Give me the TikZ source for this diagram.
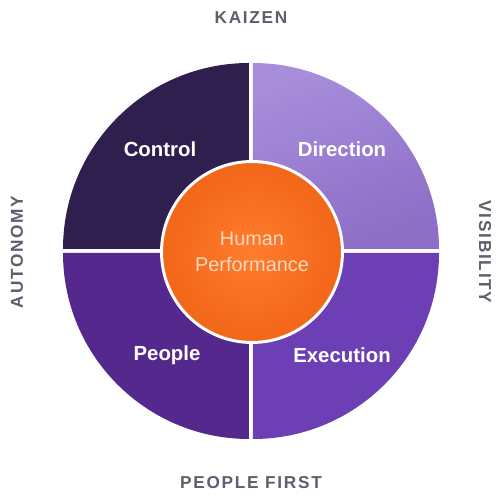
\documentclass[tikz,border=0pt]{standalone}
\usepackage{fontspec}
\setmainfont{Liberation Sans}
\newfontfamily\capsfont[LetterSpace=10]{Liberation Sans}
\definecolor{capgray}{HTML}{5E5E6C}
\definecolor{quadtl}{HTML}{2E1F4F}
\definecolor{quadtrA}{HTML}{A88DDB}
\definecolor{quadtrB}{HTML}{8C6EC6}
\definecolor{quadbl}{HTML}{54288C}
\definecolor{quadbr}{HTML}{6C40B4}
\definecolor{coreout}{HTML}{F26618}
\definecolor{corein}{HTML}{FF7C2E}
\definecolor{coretext}{HTML}{F7D9BE}
\begin{document}
\begin{tikzpicture}[
    x=0.02cm, y=0.02cm,
    quad/.style={draw=none},
    label/.style={font=\fontsize{11.6}{14}\selectfont\bfseries, text=white, align=center},
    side/.style={font=\capsfont\fontsize{9.8}{12}\selectfont\bfseries, text=capgray},
    core/.style={circle, draw=white, line width=1.7pt, minimum size=3.62cm, inner sep=0pt,
        shading=radial, inner color=corein, outer color=coreout,
        font=\fontsize{11.3}{14.7}\selectfont, text=coretext, align=center}
]
\useasboundingbox (-251,-249) rectangle (249,251);
% Quadrants
\fill[quad, fill=quadtl] (-2,2) -- (-2,188) arc[start angle=90, end angle=180, radius=186] -- cycle;
\shade[quad, top color=quadtrA, bottom color=quadtrB, shading angle=20] (2,2) -- (188,2) arc[start angle=0, end angle=90, radius=186] -- cycle;
\fill[quad, fill=quadbl] (-2,-2) -- (-188,-2) arc[start angle=180, end angle=270, radius=186] -- cycle;
\fill[quad, fill=quadbr] (2,-2) -- (2,-188) arc[start angle=270, end angle=360, radius=186] -- cycle;
% Quadrant labels
\node[label] (control) at (-91,102) {Control};
\node[label] (direction) at (91,102) {Direction};
\node[label] (people) at (-84,-104) {People};
\node[label] (execution) at (91,-104) {Execution};
% Centre
\node[core] (human) at (1,-1) {Human\\Performance};
% Side captions
\node[side] (kaizen) at (0,233) {KAIZEN};
\node[side] (first) at (0,-232) {PEOPLE FIRST};
\node[side, rotate=90] (autonomy) at (-234,-1) {AUTONOMY};
\node[side, rotate=-90] (visibility) at (234,-1) {VISIBILITY};
\end{tikzpicture}
\end{document}
